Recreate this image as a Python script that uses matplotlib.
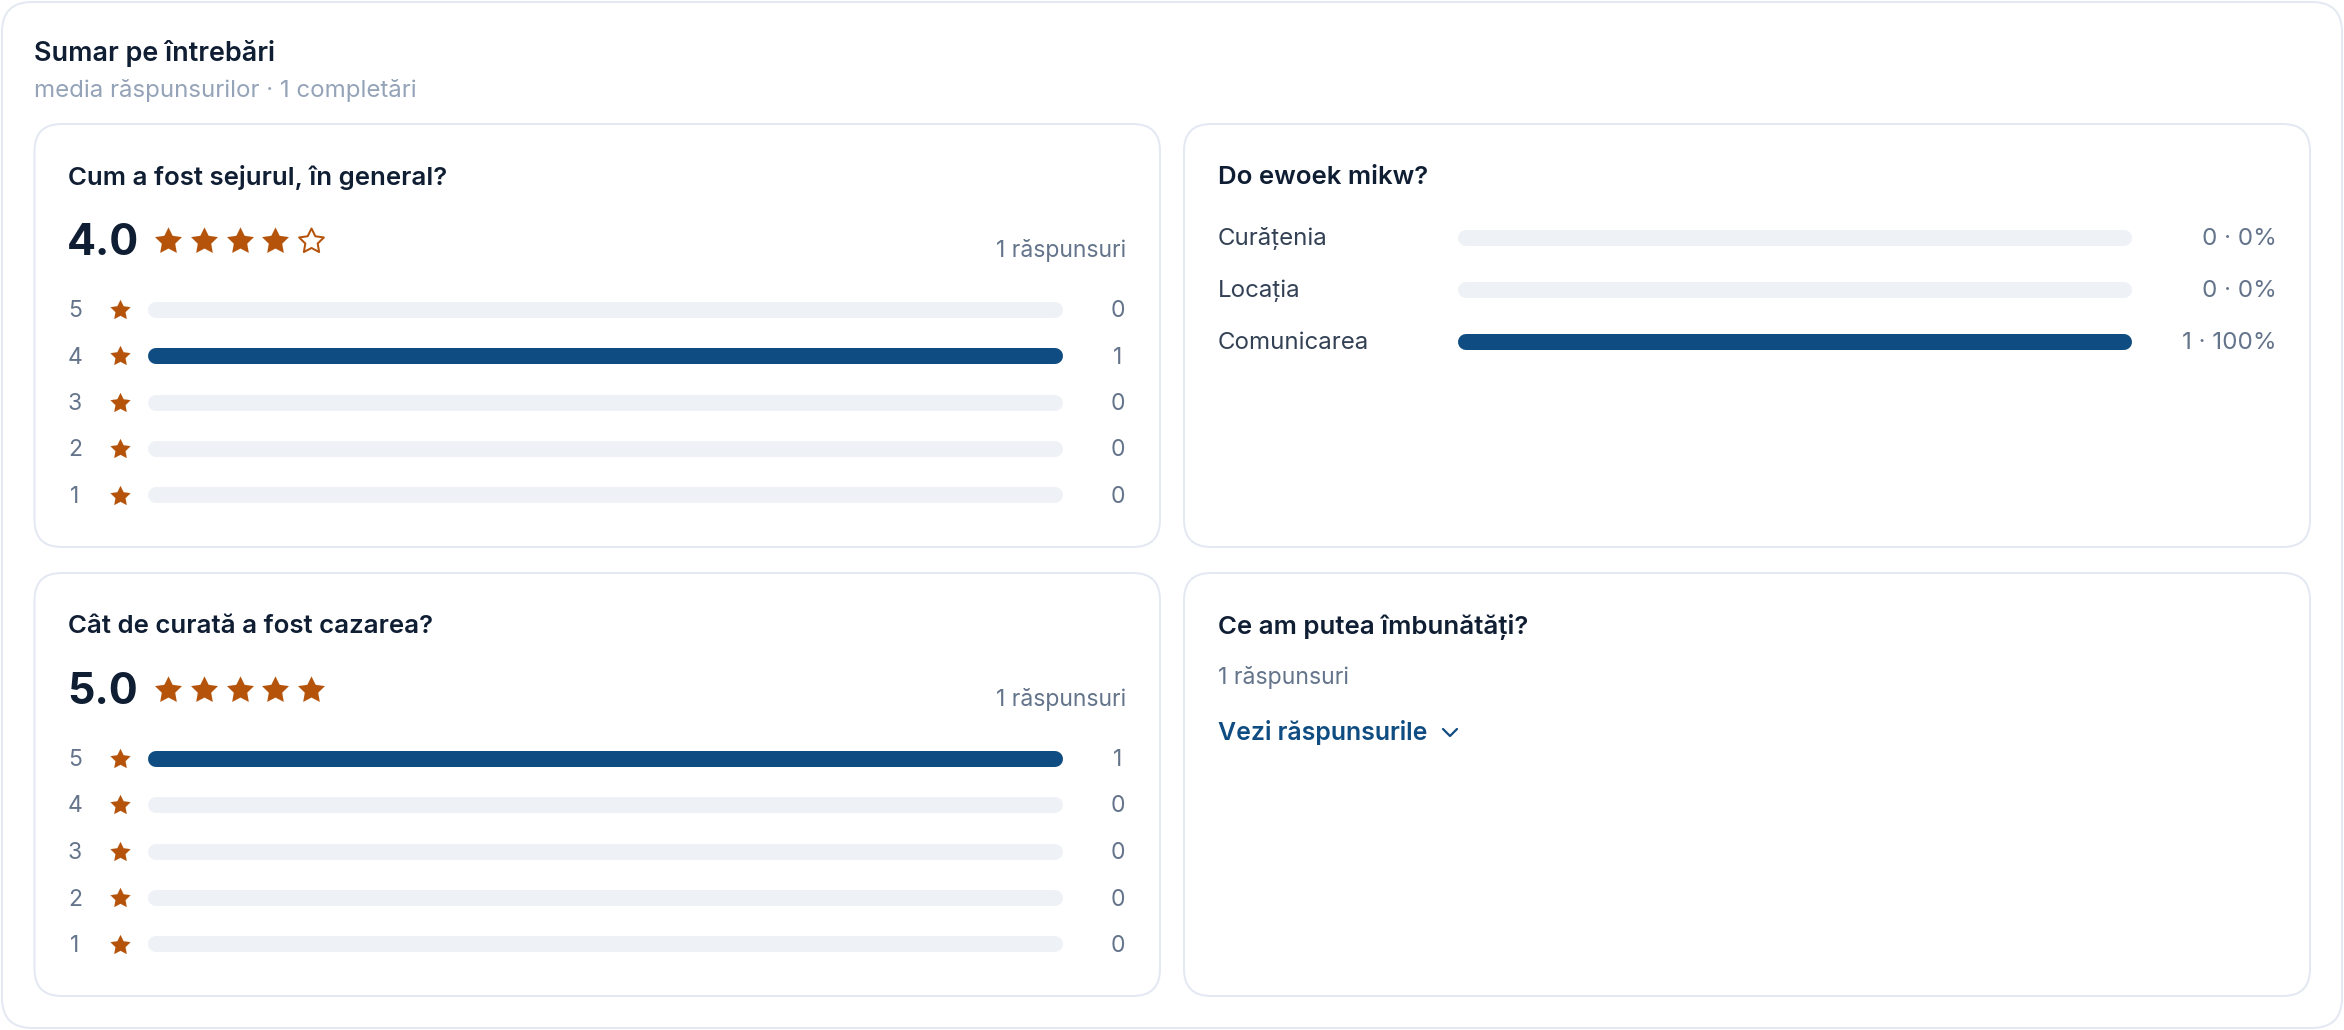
import matplotlib
matplotlib.use("Agg")
import matplotlib.pyplot as plt
from matplotlib.patches import FancyBboxPatch
from matplotlib.path import Path

plt.rcParams['font.family'] = ['Inter', 'DejaVu Sans']

# data
stele = [5, 4, 3, 2, 1]
sejur_titlu = "Cum a fost sejurul, în general?"
sejur_medie = 4.0
sejur_voturi = [0, 1, 0, 0, 0]
curat_titlu = "Cât de curată a fost cazarea?"
curat_medie = 5.0
curat_voturi = [1, 0, 0, 0, 0]
optiuni_titlu = "Do ewoek mikw?"
optiuni = ["Curățenia", "Locația", "Comunicarea"]
optiuni_voturi = [0, 0, 1]
optiuni_procente = [0, 0, 100]
deschisa_titlu = "Ce am putea îmbunătăți?"
deschisa_raspunsuri = 1

W, H = 2344, 1030
INK = "#0F1E33"
GREY = "#64748B"
SOFT = "#94A3B8"
TEXT2 = "#334155"
LINE = "#E3E8F2"
TRACK = "#EEF1F6"
BLUE = "#0F4C81"
STAR = "#B45309"
PX = 72 / 100  # one pixel in points at dpi 100

STAR_PATH = Path.unit_regular_star(5, innerCircle=0.5)

fig = plt.figure(figsize=(W / 100, H / 100), dpi=100, facecolor="white")
bg = fig.add_axes([0, 0, 1, 1])
bg.set_xlim(0, W)
bg.set_ylim(H, 0)
bg.axis("off")


def card(x0, y0, x1, y1, r):
    bg.add_patch(FancyBboxPatch((x0, y0), x1 - x0, y1 - y0,
                                boxstyle="round,pad=0,rounding_size=%d" % r,
                                fc="white", ec=LINE, lw=2 * PX))


def bars_axes(x0, x1, y0, y1, n):
    # axes spans the straight part of the bars, round caps stick out by 8 px
    ax = fig.add_axes([(x0 + 8) / W, 1 - y1 / H, (x1 - x0 - 16) / W, (y1 - y0) / H])
    ax.set_xlim(0, 1)
    ax.set_ylim(n - 0.5, -0.5)
    ax.axis("off")
    return ax


def bars(ax, values):
    top = max(values)
    for row, v in enumerate(values):
        ax.plot([0, 1], [row, row], color=TRACK, lw=16 * PX, solid_capstyle="round", clip_on=False)
        if v > 0:
            ax.plot([0, v / top], [row, row], color=BLUE, lw=16 * PX, solid_capstyle="round", clip_on=False)


def rating_card(y0, titlu, medie, voturi):
    x0, x1 = 34.5, 1160
    card(x0, y0, x1, y0 + 423, 27)
    bg.text(68, y0 + 53.5, titlu, fontsize=18.6, fontweight="semibold", color=INK, va="center")
    bg.text(67, y0 + 119.5, "%.1f" % medie, fontsize=31, fontweight="bold", color=INK, va="center")
    for i in range(5):
        full = i < round(medie)
        bg.plot(168 + i * 35.8, y0 + 117, marker=STAR_PATH, ms=(28 if full else 26) * PX,
                mfc=STAR if full else "white", mec=STAR, mew=(0.1 if full else 2) * PX,
                ls="none")
    bg.text(1126, y0 + 126.5, "%d răspunsuri" % sum(voturi), fontsize=16.5, color=GREY,
            ha="right", va="center")

    ax = bars_axes(148, 1063, y0 + 162.5, y0 + 394.5, len(voturi))
    bars(ax, voturi)
    for row, (s, v) in enumerate(zip(stele, voturi)):
        bg.text(75, y0 + 187 + row * 46.5, str(s), fontsize=16.5, color=GREY, ha="center", va="center")
        bg.plot(120, y0 + 185.5 + row * 46.5, marker=STAR_PATH, ms=21 * PX, mfc=STAR, mec=STAR,
                mew=0.1, ls="none")
        bg.text(1118, y0 + 187 + row * 46.5, str(v), fontsize=16.5, color=GREY, ha="center", va="center")


card(2, 2, W - 2, H - 2, 30)
bg.text(34.5, 53.5, "Sumar pe întrebări", fontsize=19.4, fontweight="semibold", color=INK, va="center")
bg.text(34.5, 90, "media răspunsurilor · 1 completări", fontsize=17.3, color=SOFT, va="center")

rating_card(124, sejur_titlu, sejur_medie, sejur_voturi)
rating_card(573, curat_titlu, curat_medie, curat_voturi)

# multiple choice card
card(1184, 124, 2310, 547, 27)
bg.text(1218, 177.5, optiuni_titlu, fontsize=18.6, fontweight="semibold", color=INK, va="center")
ax = bars_axes(1458, 2132, 212, 368, len(optiuni))
bars(ax, optiuni_voturi)
for row, (nume, v, p) in enumerate(zip(optiuni, optiuni_voturi, optiuni_procente)):
    bg.text(1218, 239 + row * 52, nume, fontsize=17.3, color=TEXT2, va="center")
    bg.text(2276.5, 239 + row * 52, "%d · %d%%" % (v, p), fontsize=17.4, color=GREY, ha="right", va="center")

# open question card
card(1184, 573, 2310, 996, 27)
bg.text(1218, 626.5, deschisa_titlu, fontsize=18.6, fontweight="semibold", color=INK, va="center")
bg.text(1218, 677.5, "%d răspunsuri" % deschisa_raspunsuri, fontsize=16.6, color=GREY, va="center")
bg.text(1218, 732.5, "Vezi răspunsurile", fontsize=17.9, fontweight="semibold", color=BLUE, va="center")
bg.plot([1443, 1450, 1457], [729, 736, 729], color=BLUE, lw=2.2 * PX, solid_capstyle="round",
        solid_joinstyle="round")

fig.savefig("out.png", dpi=100)
